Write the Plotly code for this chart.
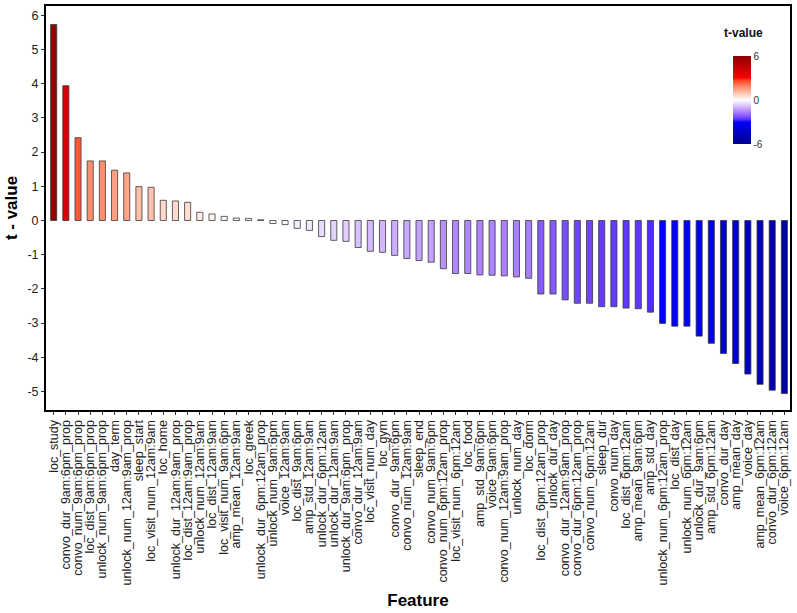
import plotly.graph_objects as go

features = [
    "loc_study", "convo_dur_9am:6pm_prop", "convo_num_9am:6pm_prop", "loc_dist_9am:6pm_prop",
    "unlock_num_9am:6pm_prop", "day_term", "unlock_num_12am:9am_prop", "sleep_start",
    "loc_visit_num_12am:9am", "loc_home", "unlock_dur_12am:9am_prop", "loc_dist_12am:9am_prop",
    "unlock_num_12am:9am", "loc_dist_12am:9am", "loc_visit_num_9am:6pm", "amp_mean_12am:9am",
    "loc_greek", "unlock_dur_6pm:12am_prop", "unlock_num_9am:6pm", "voice_12am:9am",
    "loc_dist_9am:6pm", "amp_std_12am:9am", "unlock_dur_6pm:12am", "unlock_dur_12am:9am",
    "unlock_dur_9am:6pm_prop", "convo_dur_12am:9am", "loc_visit_num_day", "loc_gym",
    "convo_dur_9am:6pm", "convo_num_12am:9am", "sleep_end", "convo_num_9am:6pm",
    "convo_num_6pm:12am_prop", "loc_visit_num_6pm:12am", "loc_food", "amp_std_9am:6pm",
    "voice_9am:6pm", "convo_num_12am:9am_prop", "unlock_num_day", "loc_dorm",
    "loc_dist_6pm:12am_prop", "unlock_dur_day", "convo_dur_12am:9am_prop", "convo_dur_6pm:12am_prop",
    "convo_num_6pm:12am", "sleep_dur", "convo_num_day", "loc_dist_6pm:12am",
    "amp_mean_9am:6pm", "amp_std_day", "unlock_num_6pm:12am_prop", "loc_dist_day",
    "unlock_num_6pm:12am", "unlock_dur_9am:6pm", "amp_std_6pm:12am", "convo_dur_day",
    "amp_mean_day", "voice_day", "amp_mean_6pm:12am", "convo_dur_6pm:12am", "voice_6pm:12am",
]

t_values = [
    5.73, 3.94, 2.42, 1.74, 1.74, 1.47, 1.39, 0.99, 0.97, 0.59, 0.57, 0.53,
    0.24, 0.19, 0.12, 0.07, 0.06, 0.02, -0.09, -0.12, -0.23, -0.29, -0.47, -0.58,
    -0.61, -0.79, -0.90, -0.93, -1.02, -1.11, -1.17, -1.22, -1.41, -1.55, -1.55, -1.59,
    -1.60, -1.62, -1.65, -1.69, -2.15, -2.15, -2.32, -2.42, -2.42, -2.52, -2.52, -2.56,
    -2.58, -2.68, -3.01, -3.09, -3.09, -3.38, -3.59, -3.89, -4.18, -4.49, -4.79, -4.96, -5.06,
]

y_ticks = [-5, -4, -3, -2, -1, 0, 1, 2, 3, 4, 5, 6]
y_ticklabels = ["-5", "-4", "-3", "-2", "-1", "0", "1", "2", "3", "4", "5", "6"]
color_limits = [-6, 6]
cbar_ticks = [-6, 0, 6]
cbar_ticklabels = ["-6", "0", "6"]
legend_title = "t-value"

# ---- Lab-interpolated diverging colour scale (darkblue-blue-white-red-darkred) ----
anchor_colors = ["#00008B", "#0000FF", "#FFFFFF", "#FF0000", "#8B0000"]


def hex_to_rgb(h):
    h = h.lstrip("#")
    return [int(h[i:i + 2], 16) / 255 for i in (0, 2, 4)]


def srgb_to_lin(c):
    return c / 12.92 if c <= 0.04045 else ((c + 0.055) / 1.055) ** 2.4


def lin_to_srgb(c):
    c = min(max(c, 0.0), 1.0)
    return 12.92 * c if c <= 0.0031308 else 1.055 * c ** (1 / 2.4) - 0.055


def rgb_to_lab(rgb):
    r, g, b = [srgb_to_lin(c) for c in rgb]
    x = (0.4124 * r + 0.3576 * g + 0.1805 * b) / 0.95047
    y = (0.2126 * r + 0.7152 * g + 0.0722 * b)
    z = (0.0193 * r + 0.1192 * g + 0.9505 * b) / 1.08883

    def f(t):
        return t ** (1 / 3) if t > 0.008856 else 7.787 * t + 16 / 116

    fx, fy, fz = f(x), f(y), f(z)
    return [116 * fy - 16, 500 * (fx - fy), 200 * (fy - fz)]


def lab_to_rgb(lab):
    L, a, b = lab
    fy = (L + 16) / 116
    fx = fy + a / 500
    fz = fy - b / 200

    def finv(t):
        return t ** 3 if t ** 3 > 0.008856 else (t - 16 / 116) / 7.787

    x, y, z = 0.95047 * finv(fx), finv(fy), 1.08883 * finv(fz)
    r = 3.2406 * x - 1.5372 * y - 0.4986 * z
    g = -0.9689 * x + 1.8758 * y + 0.0415 * z
    bb = 0.0557 * x - 0.2040 * y + 1.0570 * z
    return [round(lin_to_srgb(c) * 255) for c in (r, g, bb)]


labs = [rgb_to_lab(hex_to_rgb(c)) for c in anchor_colors]
colorscale = []
n_seg = len(labs) - 1
steps = 12
for s in range(n_seg):
    for k in range(steps):
        t = k / steps
        lab = [labs[s][i] + (labs[s + 1][i] - labs[s][i]) * t for i in range(3)]
        r, g, b = lab_to_rgb(lab)
        colorscale.append([(s + t) / n_seg, f"rgb({r},{g},{b})"])
r, g, b = lab_to_rgb(labs[-1])
colorscale.append([1.0, f"rgb({r},{g},{b})"])

fig = go.Figure()
fig.add_trace(go.Bar(
    x=features,
    y=t_values,
    width=0.5,
    marker=dict(
        color=t_values,
        colorscale=colorscale,
        cmin=color_limits[0],
        cmax=color_limits[1],
        line=dict(color="#3a3a3a", width=0.8),
        colorbar=dict(
            x=0.923, xanchor="left", xref="paper", xpad=0,
            y=0.767, yanchor="middle", yref="paper", ypad=0,
            len=88, lenmode="pixels",
            thickness=18, thicknessmode="pixels",
            outlinewidth=0,
            tickmode="array", tickvals=cbar_ticks, ticktext=cbar_ticklabels,
            ticks="inside", tickcolor="white", ticklen=4,
            tickfont=dict(size=10, color="#333"),
            bgcolor="rgba(0,0,0,0)",
        ),
    ),
    showlegend=False,
))

fig.add_annotation(
    text=f"<b>{legend_title}</b>", xref="paper", yref="paper",
    x=0.937, y=0.933, xanchor="center", yanchor="middle", showarrow=False,
    font=dict(size=12, color="#111"),
)

fig.update_layout(
    width=797, height=613,
    margin=dict(l=46, r=7, t=6, b=203),
    paper_bgcolor="white", plot_bgcolor="white",
    font=dict(family="Liberation Sans, Arial, sans-serif", color="#222"),
    bargap=0.5,
)
fig.update_xaxes(
    range=[-0.63, 60.46],
    tickmode="array", tickvals=features, ticktext=features,
    tickangle=-90,
    tickfont=dict(size=12.5, color="#222"),
    showline=True, linecolor="black", linewidth=2, mirror=True,
    ticks="outside", ticklen=3, tickcolor="#333",
    showgrid=False, automargin=False,
    title=dict(text="<b>Feature</b>", font=dict(size=17, color="black"), standoff=10),
)
fig.update_yaxes(
    range=[-5.54, 6.27],
    tickmode="array", tickvals=y_ticks, ticktext=y_ticklabels,
    tickfont=dict(size=12.5, color="#222"),
    showline=True, linecolor="black", linewidth=2, mirror=True,
    ticks="outside", ticklen=3, tickcolor="#333",
    showgrid=False, zeroline=False, automargin=False,
    title=dict(text="<b>t - value</b>", font=dict(size=17, color="black"), standoff=5),
)

fig.write_html("out.html", config={"displayModeBar": False},
               post_script="document.body.style.margin='0';")
